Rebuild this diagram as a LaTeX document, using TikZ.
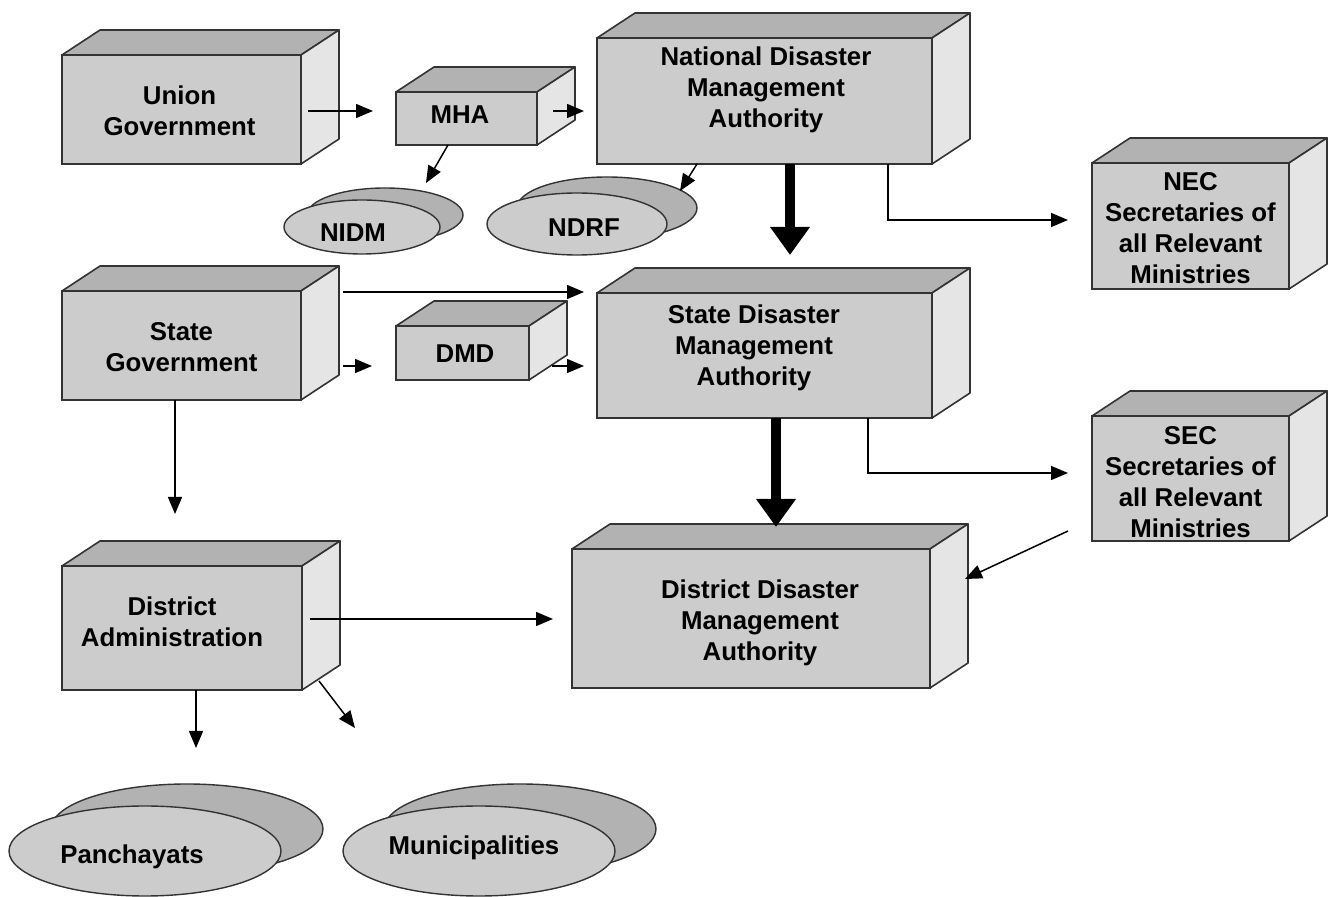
\documentclass[tikz,border=0pt]{standalone}
\usepackage{fontspec}
\setmainfont{Liberation Sans}
\usetikzlibrary{arrows.meta,shapes.geometric}
\definecolor{facegray}{gray}{0.80}
\definecolor{topgray}{gray}{0.70}
\definecolor{sidegray}{gray}{0.90}
\definecolor{edgegray}{gray}{0.20}

\begin{document}
\begin{tikzpicture}[x=0.5pt,y=-0.5pt,
  font=\fontsize{12.9}{15.5}\selectfont\bfseries,
  face/.style={draw=edgegray,line width=0.8pt,fill=facegray,inner sep=0pt,outer sep=0pt},
  lid/.style={draw=edgegray,line width=0.8pt,fill=topgray,line join=round},
  flank/.style={draw=edgegray,line width=0.8pt,fill=sidegray,line join=round},
  caption/.style={align=center,inner sep=0pt},
  disc/.style={ellipse,draw=edgegray,line width=0.7pt,fill=facegray,inner sep=0pt,outer sep=0pt},
  discback/.style={ellipse,draw=edgegray,line width=0.7pt,fill=topgray,inner sep=0pt,outer sep=0pt},
  thin/.style={-{Triangle[length=8.5pt,width=7pt]},line width=0.75pt},
  heavy/.style={-{Triangle[length=14pt,width=19pt]},line width=5pt}]

\useasboundingbox (0,0) rectangle (1335,897);

% boxes: name / left / top / right / bottom / text shift / text
\foreach \n/\xa/\ya/\xb/\yb/\sx/\sy/\t in {
    ug/62/55/301/164/-2/1/{Union\\Government},
    mha/396/92/537/145/-6.5/-3.5/{MHA},
    ndma/597/38/932/164/1.5/-11/{National Disaster\\Management\\Authority},
    nec/1092/163/1289/289/0/2/{NEC\\Secretaries of\\all Relevant\\Ministries},
    sg/62/291/301/400/0/1.5/{State\\Government},
    dmd/396/326/529/380/2.5/1/{DMD},
    sdma/597/293/932/418/-10.5/-7.5/{State Disaster\\Management\\Authority},
    sec/1092/416/1289/541/0/3.5/{SEC\\Secretaries of\\all Relevant\\Ministries},
    da/62/566/302/690/-10/-6/{District\\Administration},
    ddma/572/549/930/688/9/4.5/{District Disaster\\Management\\Authority}}
{
  \draw[lid] (\xa,\ya) -- ++(38,-25) -- (\xb+38,\ya-25) -- (\xb,\ya) -- cycle;
  \draw[flank] (\xb,\ya) -- ++(38,-25) -- (\xb+38,\yb-25) -- (\xb,\yb) -- cycle;
  \node[face,minimum width=(\xb-\xa)*0.5pt,minimum height=(\yb-\ya)*0.5pt]
    (\n) at ({(\xa+\xb)/2},{(\ya+\yb)/2}) {};
  \node[caption] at ([shift={(\sx,\sy)}]\n.center) {\t};
}

% discs: name / centre / radii / back centre / text shift / text
\foreach \n/\cx/\cy/\rx/\ry/\bx/\by/\sx/\sy/\t in {
    nidm/362/227/78/27/385/215/-9/6/NIDM,
    ndrf/577/224/90/31/607/208/7/4/NDRF,
    pan/145/851/136/45/187/829/-13/6/Panchayats,
    mun/479/851/136/45/520/829/-5/-3/Municipalities}
{
  \node[discback,minimum width=\rx*1pt,minimum height=\ry*1pt] (\n-bk) at (\bx,\by) {};
  \node[disc,minimum width=\rx*1pt,minimum height=\ry*1pt] (\n) at (\cx,\cy) {};
  \node[caption] at ([shift={(\sx,\sy)}]\n.center) {\t};
}

% national level
\draw[thin] ([shift={(7,1.5)}]ug.east) -- ([shift={(-23,-7.5)}]mha.west);
\draw[thin] ([shift={(16,-7.5)}]mha.east) -- ([shift={(-13,10)}]ndma.west);
\draw[thin] ([shift={(-18.5,0)}]mha.south) -- ([shift={(41,-5)}]nidm-bk.north);
\draw[thin] ([shift={(-67.5,0)}]ndma.south) -- ([shift={(73,14)}]ndrf-bk.north);
\draw[heavy] ([shift={(25.5,0)}]ndma.south) -- ([shift={(25.5,-38)}]sdma.north);
\draw[thin] ([shift={(123.5,0)}]ndma.south) |- ([shift={(-24,-6)}]nec.west);

% state level
\draw[thin] ([shift={(42,1)}]sg.north east) -- ([shift={(-13,-1)}]sdma.north west);
\draw[thin] ([shift={(42,20.5)}]sg.east) -- ([shift={(-24,13)}]dmd.west);
\draw[thin] ([shift={(23,13)}]dmd.east) -- ([shift={(-13,10.5)}]sdma.west);
\draw[thin] ([shift={(-6.5,0)}]sg.south) -- ([shift={(-7,-52)}]da.north);
\draw[heavy] ([shift={(11.5,0)}]sdma.south) -- ([shift={(25,-22)}]ddma.north);
\draw[thin] ([shift={(103.5,0)}]sdma.south) |- ([shift={(-24,-5.5)}]sec.west);
\draw[thin] ([shift={(-24,-10)}]sec.south west) -- ([shift={(35,-39.5)}]ddma.east);

% district level
\draw[thin] ([shift={(8,-9)}]da.east) -- ([shift={(-19,0.5)}]ddma.west);
\draw[thin] ([shift={(14,0)}]da.south) -- ([shift={(9,-36)}]pan-bk.north);
\draw[thin] ([shift={(17,-9)}]da.south east) -- ([shift={(-165,-56)}]mun-bk.north);

\end{tikzpicture}
\end{document}
